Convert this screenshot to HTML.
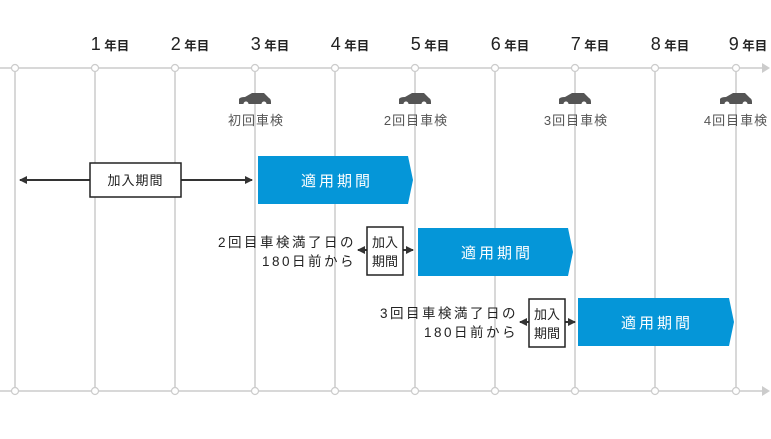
<!DOCTYPE html>
<html><head><meta charset="utf-8"><style>
html,body{margin:0;padding:0;background:#fff;}
text{font-family:"Liberation Sans","Noto Sans CJK JP",sans-serif;}
</style></head><body>
<svg width="771" height="434" xmlns="http://www.w3.org/2000/svg">
<defs>
<marker id="ah" markerWidth="8" markerHeight="8" refX="7" refY="4" orient="auto" markerUnits="userSpaceOnUse"><path d="M0,0 L8,4 L0,8 Z" fill="#333"/></marker>
<g id="car"><path d="M-16,5 L-16,0 Q-15,-2 -10,-2 L-3,-6 L9,-6 L14,-1 Q16,0 16,3 L16,5 Z" fill="#555"/><circle cx="-9" cy="5" r="2.5" fill="#fff"/><circle cx="9" cy="5" r="2.5" fill="#fff"/></g>
</defs>
<g stroke="#ccc" stroke-width="1.5">
<line x1="0" y1="68" x2="762" y2="68"/><line x1="0" y1="391" x2="762" y2="391"/>
<line x1="15" y1="68" x2="15" y2="391"/><line x1="95" y1="68" x2="95" y2="391"/><line x1="175" y1="68" x2="175" y2="391"/><line x1="255" y1="68" x2="255" y2="391"/><line x1="335" y1="68" x2="335" y2="391"/><line x1="415" y1="68" x2="415" y2="391"/><line x1="495" y1="68" x2="495" y2="391"/><line x1="575" y1="68" x2="575" y2="391"/><line x1="655" y1="68" x2="655" y2="391"/><line x1="736" y1="68" x2="736" y2="391"/>
</g>
<path d="M762,63 L770,68 L762,73Z M762,386 L770,391 L762,396Z" fill="#ccc"/>
<g fill="#fff" stroke="#ccc" stroke-width="1.2">
<circle cx="15" cy="68" r="3.5"/><circle cx="95" cy="68" r="3.5"/><circle cx="175" cy="68" r="3.5"/><circle cx="255" cy="68" r="3.5"/><circle cx="335" cy="68" r="3.5"/><circle cx="415" cy="68" r="3.5"/><circle cx="495" cy="68" r="3.5"/><circle cx="575" cy="68" r="3.5"/><circle cx="655" cy="68" r="3.5"/><circle cx="736" cy="68" r="3.5"/>
<circle cx="15" cy="391" r="3.5"/><circle cx="95" cy="391" r="3.5"/><circle cx="175" cy="391" r="3.5"/><circle cx="255" cy="391" r="3.5"/><circle cx="335" cy="391" r="3.5"/><circle cx="415" cy="391" r="3.5"/><circle cx="495" cy="391" r="3.5"/><circle cx="575" cy="391" r="3.5"/><circle cx="655" cy="391" r="3.5"/><circle cx="736" cy="391" r="3.5"/>
</g>
<g font-weight="bold" fill="#222" text-anchor="middle">
<text x="110" y="50" font-size="12.5"><tspan font-size="18" font-weight="normal">1</tspan> 年目</text>
<text x="190" y="50" font-size="12.5"><tspan font-size="18" font-weight="normal">2</tspan> 年目</text>
<text x="270" y="50" font-size="12.5"><tspan font-size="18" font-weight="normal">3</tspan> 年目</text>
<text x="350" y="50" font-size="12.5"><tspan font-size="18" font-weight="normal">4</tspan> 年目</text>
<text x="430" y="50" font-size="12.5"><tspan font-size="18" font-weight="normal">5</tspan> 年目</text>
<text x="510" y="50" font-size="12.5"><tspan font-size="18" font-weight="normal">6</tspan> 年目</text>
<text x="590" y="50" font-size="12.5"><tspan font-size="18" font-weight="normal">7</tspan> 年目</text>
<text x="670" y="50" font-size="12.5"><tspan font-size="18" font-weight="normal">8</tspan> 年目</text>
<text x="748" y="50" font-size="12.5"><tspan font-size="18" font-weight="normal">9</tspan> 年目</text>
</g>
<use href="#car" x="255" y="99"/><use href="#car" x="415" y="99"/><use href="#car" x="575" y="99"/><use href="#car" x="736" y="99"/>
<g fill="#555" font-size="13" text-anchor="middle" letter-spacing="1">
<text x="256" y="125">初回車検</text><text x="416" y="125">2回目車検</text><text x="576" y="125">3回目車検</text><text x="736" y="125">4回目車検</text>
</g>
<g fill="#0596d8">
<path d="M258,156 L408,156 L413,180 L408,204 L258,204Z"/>
<path d="M418,228 L568,228 L573,252 L568,276 L418,276Z"/>
<path d="M578,298 L729,298 L734,322 L729,346 L578,346Z"/>
</g>
<g fill="#fff" font-size="15" text-anchor="middle" letter-spacing="3">
<text x="337" y="186">適用期間</text><text x="497" y="258">適用期間</text><text x="657" y="328">適用期間</text>
</g>
<g stroke="#333" stroke-width="2" fill="none">
<line x1="90" y1="180" x2="20" y2="180" marker-end="url(#ah)"/>
<line x1="181" y1="180" x2="252" y2="180" marker-end="url(#ah)"/>
<line x1="367" y1="250" x2="358" y2="250" marker-end="url(#ah)"/>
<line x1="403" y1="250" x2="413" y2="250" marker-end="url(#ah)"/>
<line x1="529" y1="322" x2="520" y2="322" marker-end="url(#ah)"/>
<line x1="565" y1="322" x2="575" y2="322" marker-end="url(#ah)"/>
</g>
<g fill="#fff" stroke="#222" stroke-width="1.5">
<rect x="90" y="163" width="91" height="34"/>
<rect x="367" y="227" width="36" height="48"/>
<rect x="529" y="299" width="36" height="48"/>
</g>
<g fill="#222" font-size="13" text-anchor="middle">
<text x="135.5" y="185" letter-spacing="1">加入期間</text>
<text x="385" y="247">加入</text><text x="385" y="266">期間</text>
<text x="547" y="319">加入</text><text x="547" y="338">期間</text>
</g>
<g fill="#222" font-size="13.5" text-anchor="end" letter-spacing="2.5">
<text x="356" y="247">2回目車検満了日の</text><text x="356" y="266">180日前から</text>
<text x="518" y="318">3回目車検満了日の</text><text x="518" y="337">180日前から</text>
</g>
</svg>
</body></html>
